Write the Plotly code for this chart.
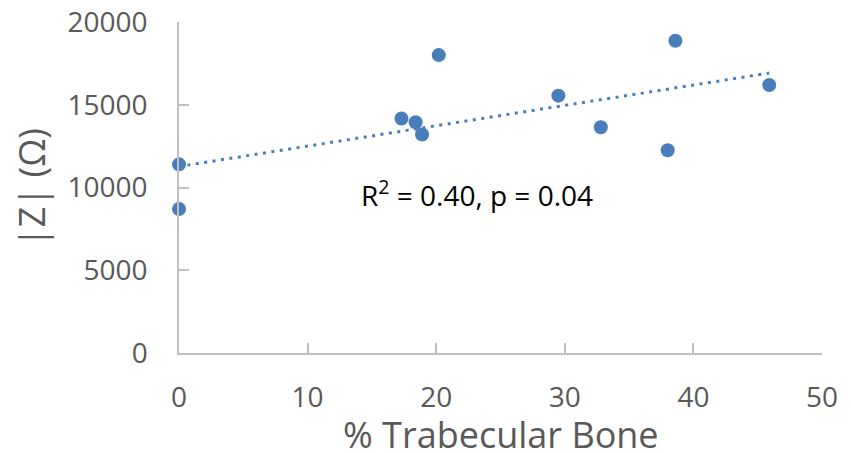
import numpy as np
import plotly.graph_objects as go

# Data
trabecular_pct = [0.0, 0.0, 17.3, 18.4, 18.9, 20.2, 29.5, 32.8, 38.0, 38.6, 45.9]
impedance_ohm = [11400, 8700, 14170, 13940, 13200, 18000, 15550, 13640, 12250, 18870, 16190]

x_ticks = [0, 10, 20, 30, 40, 50]
y_ticks = [0, 5000, 10000, 15000, 20000]
stats_label = "R<sup>2</sup> = 0.40, p = 0.04"
x_title = "% Trabecular Bone"
y_title = "|Z| (Ω)"

blue = "#4A7EBB"
axis_grey = "#BFBFBF"
label_grey = "#595959"
font_family = "Open Sans, Noto Sans, sans-serif"

# Linear trendline (least squares) over the data range
slope, intercept = np.polyfit(trabecular_pct, impedance_ohm, 1)
trend_x = [min(trabecular_pct), max(trabecular_pct)]
trend_y = [slope * v + intercept for v in trend_x]

fig = go.Figure()
fig.add_trace(go.Scatter(
    x=trend_x, y=trend_y, mode="lines",
    line=dict(color=blue, width=3, dash="3px,5.5px"),
    hoverinfo="skip", showlegend=False,
))
fig.add_trace(go.Scatter(
    x=trabecular_pct, y=impedance_ohm, mode="markers",
    marker=dict(color=blue, size=14, line=dict(width=0)),
    showlegend=False, cliponaxis=False,
))

fig.add_annotation(
    x=23.17, y=9650, xref="x", yref="y", text=stats_label, showarrow=False,
    xanchor="center", yanchor="middle",
    font=dict(family=font_family, size=28, color="#000000"),
)
# x-axis title
fig.add_annotation(
    x=0.5, y=-0.247, xref="paper", yref="paper", text=x_title, showarrow=False,
    xanchor="center", yanchor="middle",
    font=dict(family=font_family, size=36, color=label_grey),
)

axis_common = dict(
    showgrid=False, zeroline=False, showline=True,
    linecolor=axis_grey, linewidth=1.5,
    ticks="inside", ticklen=10, tickwidth=1.5, tickcolor=axis_grey,
    tickfont=dict(family=font_family, size=28, color=label_grey),
)

fig.update_xaxes(
    range=[0, 50], tickvals=x_ticks, ticktext=[str(v) for v in x_ticks],
    ticklabelstandoff=19,
    **axis_common,
)
fig.update_yaxes(
    range=[0, 20000], tickvals=y_ticks, ticktext=[str(v) for v in y_ticks],
    title=dict(text=y_title, standoff=11,
               font=dict(family=font_family, size=36, color=label_grey)),
    ticklabelstandoff=24,
    **axis_common,
)

fig.update_layout(
    width=851, height=453,
    margin=dict(l=179, r=29, t=22, b=100, autoexpand=False),
    paper_bgcolor="white", plot_bgcolor="white",
)

fig.write_html("out.html")
